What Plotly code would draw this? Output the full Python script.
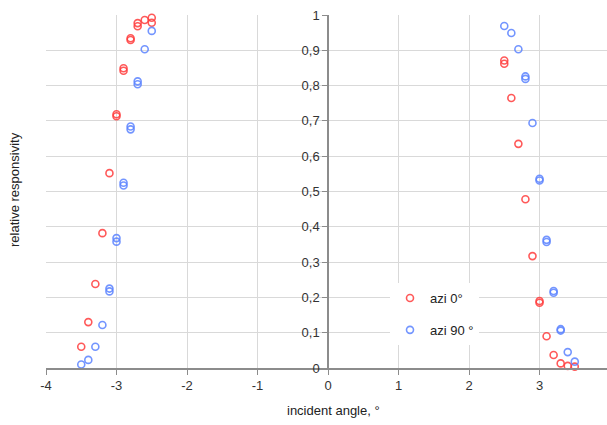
import plotly.graph_objects as go

# Relative responsivity vs. incident angle, two azimuth orientations
azi0_angle = [-3.5, -3.4, -3.3, -3.2, -3.1, -3.0, -3.0, -2.9, -2.9, -2.8, -2.8,
              -2.7, -2.7, -2.6, -2.5, -2.5,
              2.5, 2.5, 2.6, 2.7, 2.8, 2.9, 3.0, 3.0, 3.1, 3.2, 3.3, 3.4, 3.5]
azi0_resp = [0.060, 0.130, 0.238, 0.382, 0.552, 0.719, 0.713, 0.849, 0.842, 0.934, 0.929,
             0.977, 0.968, 0.986, 0.992, 0.978,
             0.871, 0.862, 0.765, 0.635, 0.478, 0.317, 0.190, 0.185, 0.090, 0.037, 0.013, 0.006, 0.004]

azi90_angle = [-3.5, -3.4, -3.3, -3.2, -3.1, -3.1, -3.0, -3.0, -2.9, -2.9, -2.8, -2.8,
               -2.7, -2.7, -2.6, -2.5,
               2.5, 2.6, 2.7, 2.8, 2.8, 2.9, 3.0, 3.0, 3.1, 3.1, 3.2, 3.2, 3.3, 3.3, 3.4, 3.5]
azi90_resp = [0.010, 0.023, 0.060, 0.122, 0.225, 0.217, 0.368, 0.358, 0.525, 0.517, 0.684, 0.676,
              0.812, 0.804, 0.903, 0.955,
              0.969, 0.949, 0.903, 0.826, 0.819, 0.694, 0.536, 0.531, 0.363, 0.357, 0.218, 0.213,
              0.110, 0.106, 0.045, 0.018]

x_ticks = [-4, -3, -2, -1, 0, 1, 2, 3]
x_tick_labels = ["-4", "-3", "-2", "-1", "0", "1", "2", "3"]
y_ticks = [0, 0.1, 0.2, 0.3, 0.4, 0.5, 0.6, 0.7, 0.8, 0.9, 1.0]
y_tick_labels = ["0", "0,1", "0,2", "0,3", "0,4", "0,5", "0,6", "0,7", "0,8", "0,9", "1"]

RED = "rgba(255,60,60,0.85)"
BLUE = "rgba(90,130,255,0.85)"

fig = go.Figure()
fig.add_trace(go.Scatter(
    x=azi0_angle, y=azi0_resp, mode="markers", name="azi 0°", legendgroup="a",
    cliponaxis=False,
    marker=dict(symbol="circle-open", size=7, color=RED, line=dict(width=1.6, color=RED)),
))
fig.add_trace(go.Scatter(
    x=azi90_angle, y=azi90_resp, mode="markers", name="azi 90 °", legendgroup="b",
    cliponaxis=False,
    marker=dict(symbol="circle-open", size=7, color=BLUE, line=dict(width=1.6, color=BLUE)),
))

L, R, T, B = 46, 0, 15, 57
W, H = 607, 425
plot_w = W - L - R
x_min, x_max = -4, 3.957
y_axis_pos = (0 - x_min) / (x_max - x_min)

fnt = "Liberation Sans, Arial, sans-serif"

fig.update_layout(
    width=W, height=H,
    margin=dict(l=L, r=R, t=T, b=B, pad=0),
    paper_bgcolor="white", plot_bgcolor="white",
    font=dict(family=fnt, size=12, color="#333333"),
    showlegend=True,
    legend=dict(
        x=(390 - L) / plot_w, y=(368 - 283) / 353, xanchor="left", yanchor="top",
        bgcolor="white", borderwidth=0, tracegroupgap=12, itemwidth=30,
        font=dict(family=fnt, size=13, color="#222222"),
    ),
    xaxis=dict(
        range=[x_min, x_max], tickvals=x_ticks, ticktext=x_tick_labels,
        showgrid=True, gridcolor="#d9d9d9", gridwidth=1,
        zeroline=False, showline=True, linecolor="#8c8c8c", linewidth=1.5,
        ticks="outside", ticklen=5, tickcolor="#8c8c8c",
        tickfont=dict(family=fnt, size=13, color="#333333"),
    ),
    yaxis=dict(
        range=[0, 1], tickvals=y_ticks, ticktext=y_tick_labels,
        anchor="free", position=y_axis_pos,
        showgrid=True, gridcolor="#d9d9d9", gridwidth=1,
        zeroline=False, showline=True, linecolor="#8c8c8c", linewidth=1.5,
        ticks="outside", ticklen=5, tickcolor="#8c8c8c",
        tickfont=dict(family=fnt, size=13, color="#333333"),
    ),
    annotations=[
        dict(text="incident angle, °", xref="paper", yref="paper",
             x=(333 - L) / plot_w, y=-(410 - 368) / 353, showarrow=False,
             xanchor="center", yanchor="middle",
             font=dict(family=fnt, size=13, color="#222222")),
        dict(text="relative responsivity", xref="paper", yref="paper",
             x=-(L - 14) / plot_w, y=(368 - 190) / 353, showarrow=False, textangle=-90,
             xanchor="center", yanchor="middle",
             font=dict(family=fnt, size=13, color="#222222")),
    ],
)

fig.write_html("out.html")
